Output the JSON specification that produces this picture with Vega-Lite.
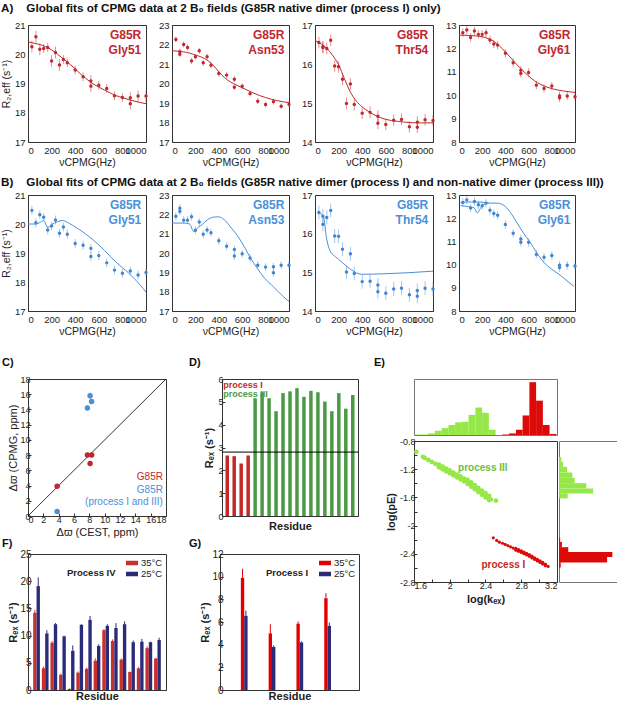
{
"$schema": "https://vega.github.io/schema/vega-lite/v6.json",
"background": "white",
"padding": {"left": 0, "top": 2, "right": 0, "bottom": 0},
"spacing": 18,
"resolve": {"scale": {"color": "independent"}},
"config": {
  "font": "Liberation Sans",
  "view": {"stroke": "#333", "strokeWidth": 1},
  "axis": {"grid": false, "labelOverlap": false, "labelFont": "Liberation Sans", "labelFontSize": 9.5, "labelColor": "#222", "titleFont": "Liberation Sans", "titleFontSize": 10.5, "titleFontWeight": "normal", "titleColor": "#222", "domainColor": "#333", "tickColor": "#333", "ticks": false, "labelPadding": 3, "titlePadding": 3},
  "title": {"font": "Liberation Sans", "fontWeight": "bold", "fontSize": 11.7, "color": "#111", "anchor": "start", "frame": "group"},
  "text": {"font": "Liberation Sans"}
},
"datasets": {
  "A1": [{"x":33,"y":20.26,"e":0.2},{"x":67,"y":20.6,"e":0.2},{"x":100,"y":20.17,"e":0.2},{"x":133,"y":20.2,"e":0.15},{"x":167,"y":20.23,"e":0.15},{"x":200,"y":19.77,"e":0.2},{"x":233,"y":20.06,"e":0.2},{"x":267,"y":19.63,"e":0.2},{"x":300,"y":19.82,"e":0.15},{"x":333,"y":19.71,"e":0.15},{"x":400,"y":19.46,"e":0.15},{"x":467,"y":19.23,"e":0.15},{"x":533,"y":19.09,"e":0.2},{"x":533,"y":18.91,"e":0.2},{"x":600,"y":18.94,"e":0.15},{"x":667,"y":18.83,"e":0.15},{"x":733,"y":18.58,"e":0.15},{"x":800,"y":18.52,"e":0.15},{"x":867,"y":18.51,"e":0.2},{"x":867,"y":18.31,"e":0.2},{"x":933,"y":18.57,"e":0.2},{"x":1000,"y":18.57,"e":0.2}],
  "A1f": [{"x":0,"y":20.42},{"x":50,"y":20.38},{"x":100,"y":20.33},{"x":150,"y":20.26},{"x":200,"y":20.15},{"x":250,"y":20.0},{"x":300,"y":19.84},{"x":350,"y":19.68},{"x":400,"y":19.5},{"x":450,"y":19.31},{"x":500,"y":19.14},{"x":550,"y":18.99},{"x":600,"y":18.88},{"x":650,"y":18.77},{"x":700,"y":18.67},{"x":750,"y":18.58},{"x":800,"y":18.52},{"x":850,"y":18.45},{"x":900,"y":18.4},{"x":950,"y":18.35},{"x":1000,"y":18.31}],
  "A2": [{"x":33,"y":22.26,"e":0.15},{"x":67,"y":21.63,"e":0.15},{"x":67,"y":21.5,"e":0.15},{"x":100,"y":22.0,"e":0.15},{"x":133,"y":21.85,"e":0.15},{"x":167,"y":21.16,"e":0.15},{"x":200,"y":21.37,"e":0.15},{"x":233,"y":21.68,"e":0.15},{"x":267,"y":21.06,"e":0.15},{"x":300,"y":21.37,"e":0.15},{"x":333,"y":20.94,"e":0.15},{"x":400,"y":20.51,"e":0.15},{"x":467,"y":20.43,"e":0.15},{"x":533,"y":20.22,"e":0.15},{"x":533,"y":19.81,"e":0.15},{"x":600,"y":19.86,"e":0.15},{"x":667,"y":19.48,"e":0.15},{"x":733,"y":19.09,"e":0.15},{"x":800,"y":18.92,"e":0.15},{"x":867,"y":19.07,"e":0.15},{"x":933,"y":18.83,"e":0.15},{"x":1000,"y":18.93,"e":0.15}],
  "A2f": [{"x":0,"y":21.68},{"x":50,"y":21.66},{"x":100,"y":21.62},{"x":150,"y":21.56},{"x":200,"y":21.46},{"x":250,"y":21.36},{"x":300,"y":21.2},{"x":350,"y":20.95},{"x":400,"y":20.6},{"x":450,"y":20.3},{"x":500,"y":20.08},{"x":550,"y":19.92},{"x":600,"y":19.78},{"x":650,"y":19.64},{"x":700,"y":19.5},{"x":750,"y":19.38},{"x":800,"y":19.28},{"x":850,"y":19.19},{"x":900,"y":19.12},{"x":950,"y":19.06},{"x":1000,"y":19.02}],
  "A3": [{"x":33,"y":16.55,"e":0.15},{"x":67,"y":16.44,"e":0.15},{"x":67,"y":16.42,"e":0.15},{"x":100,"y":16.4,"e":0.15},{"x":133,"y":16.61,"e":0.15},{"x":167,"y":15.95,"e":0.15},{"x":200,"y":15.93,"e":0.15},{"x":233,"y":15.61,"e":0.15},{"x":267,"y":14.99,"e":0.15},{"x":300,"y":15.49,"e":0.15},{"x":333,"y":14.96,"e":0.15},{"x":400,"y":14.74,"e":0.15},{"x":467,"y":14.76,"e":0.15},{"x":533,"y":14.66,"e":0.15},{"x":533,"y":14.48,"e":0.15},{"x":600,"y":14.45,"e":0.15},{"x":667,"y":14.56,"e":0.15},{"x":733,"y":14.58,"e":0.15},{"x":800,"y":14.39,"e":0.15},{"x":867,"y":14.51,"e":0.15},{"x":867,"y":14.38,"e":0.15},{"x":933,"y":14.57,"e":0.15},{"x":1000,"y":14.55,"e":0.15}],
  "A3f": [{"x":0,"y":16.6},{"x":50,"y":16.52},{"x":100,"y":16.4},{"x":150,"y":16.22},{"x":200,"y":15.98},{"x":250,"y":15.62},{"x":300,"y":15.28},{"x":350,"y":15.05},{"x":400,"y":14.9},{"x":450,"y":14.79},{"x":500,"y":14.7},{"x":550,"y":14.63},{"x":600,"y":14.58},{"x":700,"y":14.53},{"x":800,"y":14.5},{"x":900,"y":14.49},{"x":1000,"y":14.49}],
  "A4": [{"x":33,"y":12.67,"e":0.18},{"x":67,"y":12.79,"e":0.18},{"x":100,"y":12.47,"e":0.18},{"x":133,"y":12.74,"e":0.18},{"x":167,"y":12.6,"e":0.18},{"x":200,"y":12.6,"e":0.18},{"x":233,"y":12.67,"e":0.18},{"x":267,"y":12.36,"e":0.18},{"x":300,"y":12.19,"e":0.18},{"x":333,"y":12.14,"e":0.18},{"x":400,"y":11.79,"e":0.18},{"x":467,"y":11.39,"e":0.18},{"x":533,"y":11.07,"e":0.18},{"x":533,"y":10.93,"e":0.18},{"x":600,"y":10.97,"e":0.18},{"x":667,"y":10.43,"e":0.18},{"x":733,"y":10.29,"e":0.18},{"x":800,"y":10.39,"e":0.18},{"x":867,"y":9.97,"e":0.18},{"x":867,"y":9.89,"e":0.18},{"x":933,"y":9.97,"e":0.18},{"x":1000,"y":9.93,"e":0.18}],
  "A4f": [{"x":0,"y":12.57},{"x":100,"y":12.55},{"x":200,"y":12.5},{"x":250,"y":12.42},{"x":300,"y":12.3},{"x":350,"y":12.1},{"x":400,"y":11.85},{"x":450,"y":11.58},{"x":500,"y":11.3},{"x":550,"y":11.05},{"x":600,"y":10.82},{"x":650,"y":10.62},{"x":700,"y":10.47},{"x":750,"y":10.36},{"x":800,"y":10.28},{"x":900,"y":10.18},{"x":1000,"y":10.12}],
  "B1": [{"x":33,"y":20.47,"e":0.15},{"x":67,"y":20.04,"e":0.15},{"x":100,"y":20.32,"e":0.15},{"x":133,"y":20.23,"e":0.15},{"x":167,"y":19.79,"e":0.15},{"x":200,"y":19.93,"e":0.15},{"x":233,"y":20.14,"e":0.15},{"x":267,"y":19.68,"e":0.15},{"x":300,"y":19.9,"e":0.15},{"x":333,"y":19.65,"e":0.15},{"x":400,"y":19.33,"e":0.15},{"x":467,"y":19.27,"e":0.15},{"x":533,"y":19.16,"e":0.15},{"x":533,"y":18.88,"e":0.15},{"x":600,"y":18.91,"e":0.15},{"x":667,"y":18.66,"e":0.15},{"x":733,"y":18.41,"e":0.15},{"x":800,"y":18.3,"e":0.15},{"x":867,"y":18.38,"e":0.15},{"x":933,"y":18.24,"e":0.15},{"x":1000,"y":18.33,"e":0.15}],
  "B1f": [{"x":0,"y":20.0},{"x":67,"y":20.0},{"x":100,"y":20.05},{"x":133,"y":20.12},{"x":167,"y":19.88},{"x":200,"y":19.98},{"x":250,"y":20.08},{"x":293,"y":20.12},{"x":350,"y":20.02},{"x":400,"y":19.9},{"x":450,"y":19.77},{"x":500,"y":19.62},{"x":550,"y":19.46},{"x":600,"y":19.28},{"x":650,"y":19.08},{"x":700,"y":18.87},{"x":750,"y":18.67},{"x":800,"y":18.49},{"x":850,"y":18.32},{"x":900,"y":18.12},{"x":950,"y":17.9},{"x":1000,"y":17.65}],
  "B2": [{"x":33,"y":21.9,"e":0.2},{"x":67,"y":22.32,"e":0.2},{"x":67,"y":22.15,"e":0.2},{"x":100,"y":21.7,"e":0.2},{"x":133,"y":21.7,"e":0.2},{"x":167,"y":21.87,"e":0.2},{"x":200,"y":21.18,"e":0.2},{"x":233,"y":21.6,"e":0.2},{"x":267,"y":20.97,"e":0.2},{"x":300,"y":21.19,"e":0.2},{"x":333,"y":21.05,"e":0.2},{"x":400,"y":20.63,"e":0.2},{"x":467,"y":20.35,"e":0.2},{"x":533,"y":20.18,"e":0.2},{"x":533,"y":19.84,"e":0.2},{"x":600,"y":19.96,"e":0.2},{"x":667,"y":19.74,"e":0.2},{"x":733,"y":19.37,"e":0.2},{"x":800,"y":19.27,"e":0.2},{"x":867,"y":19.29,"e":0.2},{"x":867,"y":18.98,"e":0.2},{"x":933,"y":19.37,"e":0.2},{"x":1000,"y":19.37,"e":0.2}],
  "B2f": [{"x":0,"y":21.55},{"x":100,"y":21.55},{"x":150,"y":21.5},{"x":187,"y":21.1},{"x":220,"y":21.3},{"x":259,"y":21.48},{"x":300,"y":21.7},{"x":350,"y":21.85},{"x":400,"y":21.87},{"x":445,"y":21.73},{"x":500,"y":21.35},{"x":560,"y":20.89},{"x":620,"y":20.3},{"x":675,"y":19.7},{"x":730,"y":19.2},{"x":790,"y":18.7},{"x":850,"y":18.35},{"x":905,"y":18.02},{"x":950,"y":17.75},{"x":1000,"y":17.5}],
  "B3": [{"x":33,"y":16.55,"e":0.18},{"x":67,"y":16.45,"e":0.18},{"x":67,"y":16.24,"e":0.18},{"x":100,"y":16.42,"e":0.18},{"x":133,"y":16.6,"e":0.18},{"x":167,"y":15.94,"e":0.18},{"x":200,"y":15.93,"e":0.18},{"x":233,"y":15.6,"e":0.18},{"x":267,"y":15.01,"e":0.18},{"x":300,"y":15.48,"e":0.18},{"x":333,"y":14.97,"e":0.18},{"x":400,"y":14.76,"e":0.18},{"x":467,"y":14.77,"e":0.18},{"x":533,"y":14.67,"e":0.18},{"x":533,"y":14.5,"e":0.18},{"x":600,"y":14.46,"e":0.18},{"x":667,"y":14.57,"e":0.18},{"x":733,"y":14.59,"e":0.18},{"x":800,"y":14.42,"e":0.18},{"x":867,"y":14.53,"e":0.18},{"x":867,"y":14.38,"e":0.18},{"x":933,"y":14.59,"e":0.18},{"x":1000,"y":14.57,"e":0.18}],
  "B3f": [{"x":42,"y":16.53},{"x":71,"y":16.45},{"x":99,"y":15.86},{"x":127,"y":15.56},{"x":175,"y":15.4},{"x":225,"y":15.27},{"x":310,"y":15.06},{"x":394,"y":14.95},{"x":563,"y":14.96},{"x":789,"y":14.99},{"x":1000,"y":15.03}],
  "B4": [{"x":33,"y":12.68,"e":0.18},{"x":67,"y":12.79,"e":0.18},{"x":100,"y":12.44,"e":0.18},{"x":133,"y":12.72,"e":0.18},{"x":167,"y":12.58,"e":0.18},{"x":200,"y":12.54,"e":0.18},{"x":233,"y":12.65,"e":0.18},{"x":267,"y":12.34,"e":0.18},{"x":300,"y":12.2,"e":0.18},{"x":333,"y":12.13,"e":0.18},{"x":400,"y":11.73,"e":0.18},{"x":467,"y":11.35,"e":0.18},{"x":533,"y":11.1,"e":0.18},{"x":533,"y":10.96,"e":0.18},{"x":600,"y":10.96,"e":0.18},{"x":667,"y":10.44,"e":0.18},{"x":733,"y":10.32,"e":0.18},{"x":800,"y":10.39,"e":0.18},{"x":867,"y":9.97,"e":0.18},{"x":867,"y":9.87,"e":0.18},{"x":933,"y":9.97,"e":0.18},{"x":1000,"y":9.94,"e":0.18}],
  "B4f": [{"s":1,"x":14,"y":12.54},{"s":1,"x":100,"y":12.48},{"s":1,"x":130,"y":12.45},{"s":1,"x":157,"y":12.23},{"s":1,"x":200,"y":12.54},{"s":1,"x":257,"y":12.65},{"s":1,"x":329,"y":12.65},{"s":1,"x":400,"y":12.5},{"s":1,"x":450,"y":12.2},{"s":1,"x":500,"y":11.8},{"s":1,"x":557,"y":11.35},{"s":1,"x":614,"y":10.96},{"s":1,"x":671,"y":10.5},{"s":1,"x":729,"y":10.11},{"s":1,"x":800,"y":9.8},{"s":1,"x":871,"y":9.55},{"s":1,"x":930,"y":9.3},{"s":1,"x":991,"y":9.06},{"s":2,"x":14,"y":12.68},{"s":2,"x":100,"y":12.7},{"s":2,"x":200,"y":12.69},{"s":2,"x":257,"y":12.65}],
  "C": [{"g":"r","x":3.8,"y":3.9,"e":0.25},{"g":"r","x":7.75,"y":8.0,"e":0.3},{"g":"r","x":8.3,"y":8.0,"e":0.3},{"g":"r","x":8.1,"y":6.9,"e":0.35},{"g":"b","x":3.8,"y":0.6,"e":0.2},{"g":"b","x":7.75,"y":14.2,"e":0.35},{"g":"b","x":8.1,"y":15.8,"e":0.4},{"g":"b","x":8.3,"y":15.05,"e":0.35}],
  "Cline": [{"x":0,"y":0},{"x":18,"y":18}],
  "D": [{"r":1,"p":"I","v":2.65},{"r":2,"p":"I","v":2.62},{"r":3,"p":"I","v":2.3},{"r":4,"p":"I","v":2.65},{"r":5,"p":"III","v":5.16},{"r":6,"p":"III","v":5.42},{"r":7,"p":"III","v":5.16},{"r":8,"p":"III","v":4.59},{"r":9,"p":"III","v":5.38},{"r":10,"p":"III","v":5.46},{"r":11,"p":"III","v":5.6},{"r":12,"p":"III","v":5.22},{"r":13,"p":"III","v":5.48},{"r":14,"p":"III","v":5.42},{"r":15,"p":"III","v":5.01},{"r":16,"p":"III","v":4.59},{"r":17,"p":"III","v":5.38},{"r":18,"p":"III","v":4.7},{"r":19,"p":"III","v":5.3}],
  "Eg": [{"x":1.72,"y":-1.04},{"x":1.76,"y":-1.068},{"x":1.8,"y":-1.097},{"x":1.84,"y":-1.125},{"x":1.88,"y":-1.153},{"x":1.92,"y":-1.182},{"x":1.96,"y":-1.21},{"x":2.0,"y":-1.238},{"x":2.04,"y":-1.267},{"x":2.08,"y":-1.295},{"x":2.12,"y":-1.323},{"x":2.16,"y":-1.352},{"x":2.2,"y":-1.38},{"x":2.24,"y":-1.418},{"x":2.28,"y":-1.456},{"x":2.32,"y":-1.494},{"x":2.36,"y":-1.532},{"x":2.4,"y":-1.57},{"x":2.44,"y":-1.608},
    {"x":1.88,"y":-1.133},{"x":1.92,"y":-1.162},{"x":1.96,"y":-1.19},{"x":2.0,"y":-1.218},{"x":2.04,"y":-1.247},{"x":2.08,"y":-1.275},{"x":2.12,"y":-1.303},{"x":2.16,"y":-1.332},
    {"x":1.88,"y":-1.173},{"x":1.92,"y":-1.202},{"x":1.96,"y":-1.23},{"x":2.0,"y":-1.258},{"x":2.04,"y":-1.287},{"x":2.08,"y":-1.315},{"x":2.12,"y":-1.343},{"x":2.16,"y":-1.372},
    {"x":2.2,"y":-1.35},{"x":2.24,"y":-1.388},{"x":2.28,"y":-1.426},{"x":2.32,"y":-1.464},{"x":2.36,"y":-1.502},{"x":2.4,"y":-1.54},{"x":2.44,"y":-1.578},
    {"x":2.2,"y":-1.41},{"x":2.24,"y":-1.448},{"x":2.28,"y":-1.486},{"x":2.32,"y":-1.524},{"x":2.36,"y":-1.562},{"x":2.4,"y":-1.6},{"x":2.44,"y":-1.638},
    {"x":1.626,"y":-0.955},{"x":1.7,"y":-1.025},{"x":2.46,"y":-1.63},{"x":2.517,"y":-1.645}],
  "Er": [{"x":2.59,"y":-2.25},{"x":2.62,"y":-2.267},{"x":2.65,"y":-2.284},{"x":2.68,"y":-2.301},{"x":2.71,"y":-2.319},{"x":2.74,"y":-2.336},{"x":2.77,"y":-2.353},{"x":2.8,"y":-2.37},{"x":2.83,"y":-2.387},{"x":2.86,"y":-2.404},{"x":2.89,"y":-2.424},{"x":2.92,"y":-2.446},{"x":2.95,"y":-2.468},{"x":2.98,"y":-2.49},{"x":3.01,"y":-2.512},{"x":3.04,"y":-2.534},{"x":3.07,"y":-2.557},{"x":3.1,"y":-2.579},
    {"x":2.74,"y":-2.324},{"x":2.77,"y":-2.341},{"x":2.8,"y":-2.358},{"x":2.83,"y":-2.375},{"x":2.86,"y":-2.392},{"x":2.89,"y":-2.412},{"x":2.92,"y":-2.434},{"x":2.95,"y":-2.456},{"x":2.98,"y":-2.478},{"x":3.01,"y":-2.5},{"x":3.04,"y":-2.522},{"x":3.07,"y":-2.545},
    {"x":2.74,"y":-2.348},{"x":2.77,"y":-2.365},{"x":2.8,"y":-2.382},{"x":2.83,"y":-2.399},{"x":2.86,"y":-2.416},{"x":2.89,"y":-2.436},{"x":2.92,"y":-2.458},{"x":2.95,"y":-2.48},{"x":2.98,"y":-2.502},{"x":3.01,"y":-2.524},{"x":3.04,"y":-2.546},{"x":3.07,"y":-2.569},
    {"x":2.487,"y":-2.174},{"x":2.525,"y":-2.21},{"x":2.555,"y":-2.235}],
  "Eth": [{"g":"III","x0":1.607,"x1":1.683,"c":1},{"g":"III","x0":1.683,"x1":1.758,"c":1},{"g":"III","x0":1.758,"x1":1.834,"c":3},{"g":"III","x0":1.834,"x1":1.909,"c":8},{"g":"III","x0":1.909,"x1":1.985,"c":13},{"g":"III","x0":1.985,"x1":2.06,"c":19},{"g":"III","x0":2.06,"x1":2.136,"c":24},{"g":"III","x0":2.136,"x1":2.211,"c":25},{"g":"III","x0":2.211,"x1":2.287,"c":38},{"g":"III","x0":2.287,"x1":2.362,"c":52},{"g":"III","x0":2.362,"x1":2.438,"c":42},{"g":"III","x0":2.438,"x1":2.513,"c":10},
    {"g":"I","x0":2.589,"x1":2.664,"c":1},{"g":"I","x0":2.664,"x1":2.74,"c":3},{"g":"I","x0":2.74,"x1":2.815,"c":10},{"g":"I","x0":2.815,"x1":2.891,"c":37},{"g":"I","x0":2.891,"x1":2.966,"c":100},{"g":"I","x0":2.966,"x1":3.042,"c":65},{"g":"I","x0":3.042,"x1":3.117,"c":19},{"g":"I","x0":3.117,"x1":3.193,"c":2}],
  "Erh": [{"g":"III","y0":-1.026,"y1":-1.096,"c":4},{"g":"III","y0":-1.096,"y1":-1.167,"c":7},{"g":"III","y0":-1.167,"y1":-1.247,"c":14},{"g":"III","y0":-1.247,"y1":-1.322,"c":23},{"g":"III","y0":-1.322,"y1":-1.398,"c":27},{"g":"III","y0":-1.398,"y1":-1.473,"c":47},{"g":"III","y0":-1.473,"y1":-1.544,"c":59},{"g":"III","y0":-1.544,"y1":-1.614,"c":15},
    {"g":"I","y0":-2.17,"y1":-2.231,"c":2},{"g":"I","y0":-2.231,"y1":-2.306,"c":5},{"g":"I","y0":-2.306,"y1":-2.376,"c":16},{"g":"I","y0":-2.376,"y1":-2.447,"c":92},{"g":"I","y0":-2.447,"y1":-2.522,"c":83},{"g":"I","y0":-2.522,"y1":-2.593,"c":3}],
  "F": [{"r":1,"t":"35°C","v":14.2,"hi":14.7},{"r":1,"t":"25°C","v":19.1,"hi":20.7},{"r":2,"t":"35°C","v":4.0,"hi":4.3},{"r":2,"t":"25°C","v":10.4,"hi":11.0},{"r":3,"t":"35°C","v":8.7,"hi":9.0},{"r":3,"t":"25°C","v":12.1,"hi":12.3},{"r":4,"t":"35°C","v":2.8,"hi":3.0},{"r":4,"t":"25°C","v":9.9,"hi":10.0},{"r":5,"t":"35°C","v":0.2,"hi":0.3},{"r":5,"t":"25°C","v":7.2,"hi":8.2},{"r":6,"t":"35°C","v":3.2,"hi":3.4},{"r":6,"t":"25°C","v":12.0,"hi":12.1},{"r":7,"t":"35°C","v":3.9,"hi":4.1},{"r":7,"t":"25°C","v":12.9,"hi":13.6},{"r":8,"t":"35°C","v":5.4,"hi":5.8},{"r":8,"t":"25°C","v":8.1,"hi":8.4},{"r":9,"t":"35°C","v":11.0,"hi":11.2},{"r":9,"t":"25°C","v":11.8,"hi":12.1},{"r":10,"t":"35°C","v":9.0,"hi":9.3},{"r":10,"t":"25°C","v":11.4,"hi":12.3},{"r":11,"t":"35°C","v":5.6,"hi":5.8},{"r":11,"t":"25°C","v":12.1,"hi":12.6},{"r":12,"t":"35°C","v":3.3,"hi":3.4},{"r":12,"t":"25°C","v":8.8,"hi":9.1},{"r":13,"t":"35°C","v":4.0,"hi":4.2},{"r":13,"t":"25°C","v":8.9,"hi":9.4},{"r":14,"t":"35°C","v":7.7,"hi":8.0},{"r":14,"t":"25°C","v":8.8,"hi":8.9},{"r":15,"t":"35°C","v":5.8,"hi":5.9},{"r":15,"t":"25°C","v":9.2,"hi":9.6}],
  "G": [{"r":1,"t":"35°C","v":9.9,"hi":10.7},{"r":1,"t":"25°C","v":6.55,"hi":7.0},{"r":2,"t":"35°C","v":5.0,"hi":5.8},{"r":2,"t":"25°C","v":3.8,"hi":3.95},{"r":3,"t":"35°C","v":5.85,"hi":6.05},{"r":3,"t":"25°C","v":4.2,"hi":4.3},{"r":4,"t":"35°C","v":8.1,"hi":8.55},{"r":4,"t":"25°C","v":5.65,"hi":5.95}]
},
"vconcat": [
 {"vconcat": [
  {"title": {"text": "A)\u00a0\u00a0\u00a0\u00a0Global fits of CPMG data at 2 B₀ fields (G85R native dimer (process I) only)", "dx": -27, "offset": 5},
   "bounds": "flush", "spacing": 26,
   "hconcat": [
    {"width": 118, "height": 117, "layer": [
      {"data": {"name": "A1"}, "mark": {"type": "errorbar", "color": "#c1272d", "opacity": 0.5}, "encoding": {"x": {"field": "x", "type": "quantitative", "title": "νCPMG(Hz)", "scale": {"domain": [0, 1000], "nice": false}, "axis": {"values": [0,200,400,600,800,1000], "tickCount": 40, "format": "d", "labelOverlap": false}}, "y": {"field": "y", "type": "quantitative", "title": "R₂,eff (s⁻¹)", "scale": {"domain": [17, 21], "nice": false}, "axis": {"values": [17,18,19,20,21], "tickCount": 40, "format": "d", "labelOverlap": false}}, "yError": {"field": "e"}}},
      {"data": {"name": "A1"}, "mark": {"type": "circle", "size": 12, "color": "#c1272d", "opacity": 1}, "encoding": {"x": {"field": "x", "type": "quantitative", "title": "νCPMG(Hz)"}, "y": {"field": "y", "type": "quantitative", "title": "R₂,eff (s⁻¹)"}}},
      {"data": {"name": "A1f"}, "mark": {"type": "line", "color": "#c1272d", "strokeWidth": 1, "interpolate": "monotone"}, "encoding": {"x": {"field": "x", "type": "quantitative", "title": "νCPMG(Hz)"}, "y": {"field": "y", "type": "quantitative", "title": "R₂,eff (s⁻¹)"}}},
      {"data": {"values": [{}]}, "mark": {"type": "text", "text": ["G85R", "Gly51"], "align": "right", "baseline": "top", "fontSize": 12, "fontWeight": "bold", "color": "#c1272d", "lineHeight": 15}, "encoding": {"x": {"datum": 960}, "y": {"datum": 20.82}}}
    ]},
    {"width": 117, "height": 117, "layer": [
      {"data": {"name": "A2"}, "mark": {"type": "errorbar", "color": "#c1272d", "opacity": 0.5}, "encoding": {"x": {"field": "x", "type": "quantitative", "title": "νCPMG(Hz)", "scale": {"domain": [0, 1000], "nice": false}, "axis": {"values": [0,200,400,600,800,1000], "tickCount": 40, "format": "d", "labelOverlap": false}}, "y": {"field": "y", "type": "quantitative", "title": null, "scale": {"domain": [17, 23], "nice": false}, "axis": {"values": [17,18,19,20,21,22,23], "tickCount": 40, "format": "d", "labelOverlap": false}}, "yError": {"field": "e"}}},
      {"data": {"name": "A2"}, "mark": {"type": "circle", "size": 12, "color": "#c1272d", "opacity": 1}, "encoding": {"x": {"field": "x", "type": "quantitative", "title": "νCPMG(Hz)"}, "y": {"field": "y", "type": "quantitative", "title": null}}},
      {"data": {"name": "A2f"}, "mark": {"type": "line", "color": "#c1272d", "strokeWidth": 1, "interpolate": "monotone"}, "encoding": {"x": {"field": "x", "type": "quantitative", "title": "νCPMG(Hz)"}, "y": {"field": "y", "type": "quantitative", "title": null}}},
      {"data": {"values": [{}]}, "mark": {"type": "text", "text": ["G85R", "Asn53"], "align": "right", "baseline": "top", "fontSize": 12, "fontWeight": "bold", "color": "#c1272d", "lineHeight": 15}, "encoding": {"x": {"datum": 960}, "y": {"datum": 22.73}}}
    ]},
    {"width": 118, "height": 117, "layer": [
      {"data": {"name": "A3"}, "mark": {"type": "errorbar", "color": "#c1272d", "opacity": 0.5}, "encoding": {"x": {"field": "x", "type": "quantitative", "title": "νCPMG(Hz)", "scale": {"domain": [0, 1000], "nice": false}, "axis": {"values": [0,200,400,600,800,1000], "tickCount": 40, "format": "d", "labelOverlap": false}}, "y": {"field": "y", "type": "quantitative", "title": null, "scale": {"domain": [14, 17], "nice": false}, "axis": {"values": [14,15,16,17], "tickCount": 40, "format": "d", "labelOverlap": false}}, "yError": {"field": "e"}}},
      {"data": {"name": "A3"}, "mark": {"type": "circle", "size": 12, "color": "#c1272d", "opacity": 1}, "encoding": {"x": {"field": "x", "type": "quantitative", "title": "νCPMG(Hz)"}, "y": {"field": "y", "type": "quantitative", "title": null}}},
      {"data": {"name": "A3f"}, "mark": {"type": "line", "color": "#c1272d", "strokeWidth": 1, "interpolate": "monotone"}, "encoding": {"x": {"field": "x", "type": "quantitative", "title": "νCPMG(Hz)"}, "y": {"field": "y", "type": "quantitative", "title": null}}},
      {"data": {"values": [{}]}, "mark": {"type": "text", "text": ["G85R", "Thr54"], "align": "right", "baseline": "top", "fontSize": 12, "fontWeight": "bold", "color": "#c1272d", "lineHeight": 15}, "encoding": {"x": {"datum": 960}, "y": {"datum": 16.86}}}
    ]},
    {"width": 116, "height": 117, "layer": [
      {"data": {"name": "A4"}, "mark": {"type": "errorbar", "color": "#c1272d", "opacity": 0.5}, "encoding": {"x": {"field": "x", "type": "quantitative", "title": "νCPMG(Hz)", "scale": {"domain": [0, 1000], "nice": false}, "axis": {"values": [0,200,400,600,800,1000], "tickCount": 40, "format": "d", "labelOverlap": false}}, "y": {"field": "y", "type": "quantitative", "title": null, "scale": {"domain": [8, 13], "nice": false}, "axis": {"values": [8,9,10,11,12,13], "tickCount": 40, "format": "d", "labelOverlap": false}}, "yError": {"field": "e"}}},
      {"data": {"name": "A4"}, "mark": {"type": "circle", "size": 12, "color": "#c1272d", "opacity": 1}, "encoding": {"x": {"field": "x", "type": "quantitative", "title": "νCPMG(Hz)"}, "y": {"field": "y", "type": "quantitative", "title": null}}},
      {"data": {"name": "A4f"}, "mark": {"type": "line", "color": "#c1272d", "strokeWidth": 1, "interpolate": "monotone"}, "encoding": {"x": {"field": "x", "type": "quantitative", "title": "νCPMG(Hz)"}, "y": {"field": "y", "type": "quantitative", "title": null}}},
      {"data": {"values": [{}]}, "mark": {"type": "text", "text": ["G85R", "Gly61"], "align": "right", "baseline": "top", "fontSize": 12, "fontWeight": "bold", "color": "#c1272d", "lineHeight": 15}, "encoding": {"x": {"datum": 960}, "y": {"datum": 12.77}}}
    ]}
   ]},
  {"title": {"text": "B)\u00a0\u00a0\u00a0\u00a0Global fits of CPMG data at 2 B₀ fields (G85R native dimer (process I) and non-native dimer (process III))", "dx": -27, "offset": 1},
   "bounds": "flush", "spacing": 26,
   "hconcat": [
    {"width": 118, "height": 116, "layer": [
      {"data": {"name": "B1"}, "mark": {"type": "errorbar", "color": "#4a90d8", "opacity": 0.5}, "encoding": {"x": {"field": "x", "type": "quantitative", "title": "νCPMG(Hz)", "scale": {"domain": [0, 1000], "nice": false}, "axis": {"values": [0,200,400,600,800,1000], "tickCount": 40, "format": "d", "labelOverlap": false}}, "y": {"field": "y", "type": "quantitative", "title": "R₂,eff (s⁻¹)", "scale": {"domain": [17, 21], "nice": false}, "axis": {"values": [17,18,19,20,21], "tickCount": 40, "format": "d", "labelOverlap": false}}, "yError": {"field": "e"}}},
      {"data": {"name": "B1"}, "mark": {"type": "circle", "size": 12, "color": "#3f86d0", "opacity": 1}, "encoding": {"x": {"field": "x", "type": "quantitative", "title": "νCPMG(Hz)"}, "y": {"field": "y", "type": "quantitative", "title": "R₂,eff (s⁻¹)"}}},
      {"data": {"name": "B1f"}, "mark": {"type": "line", "color": "#4a90d8", "strokeWidth": 1, "interpolate": "monotone"}, "encoding": {"x": {"field": "x", "type": "quantitative", "title": "νCPMG(Hz)"}, "y": {"field": "y", "type": "quantitative", "title": "R₂,eff (s⁻¹)"}}},
      {"data": {"values": [{}]}, "mark": {"type": "text", "text": ["G85R", "Gly51"], "align": "right", "baseline": "top", "fontSize": 12, "fontWeight": "bold", "color": "#4a90d8", "lineHeight": 15}, "encoding": {"x": {"datum": 960}, "y": {"datum": 20.82}}}
    ]},
    {"width": 117, "height": 116, "layer": [
      {"data": {"name": "B2"}, "mark": {"type": "errorbar", "color": "#4a90d8", "opacity": 0.5}, "encoding": {"x": {"field": "x", "type": "quantitative", "title": "νCPMG(Hz)", "scale": {"domain": [0, 1000], "nice": false}, "axis": {"values": [0,200,400,600,800,1000], "tickCount": 40, "format": "d", "labelOverlap": false}}, "y": {"field": "y", "type": "quantitative", "title": null, "scale": {"domain": [17, 23], "nice": false}, "axis": {"values": [17,18,19,20,21,22,23], "tickCount": 40, "format": "d", "labelOverlap": false}}, "yError": {"field": "e"}}},
      {"data": {"name": "B2"}, "mark": {"type": "circle", "size": 12, "color": "#3f86d0", "opacity": 1}, "encoding": {"x": {"field": "x", "type": "quantitative", "title": "νCPMG(Hz)"}, "y": {"field": "y", "type": "quantitative", "title": null}}},
      {"data": {"name": "B2f"}, "mark": {"type": "line", "color": "#4a90d8", "strokeWidth": 1, "interpolate": "monotone"}, "encoding": {"x": {"field": "x", "type": "quantitative", "title": "νCPMG(Hz)"}, "y": {"field": "y", "type": "quantitative", "title": null}}},
      {"data": {"values": [{}]}, "mark": {"type": "text", "text": ["G85R", "Asn53"], "align": "right", "baseline": "top", "fontSize": 12, "fontWeight": "bold", "color": "#4a90d8", "lineHeight": 15}, "encoding": {"x": {"datum": 960}, "y": {"datum": 22.73}}}
    ]},
    {"width": 118, "height": 116, "layer": [
      {"data": {"name": "B3"}, "mark": {"type": "errorbar", "color": "#4a90d8", "opacity": 0.5}, "encoding": {"x": {"field": "x", "type": "quantitative", "title": "νCPMG(Hz)", "scale": {"domain": [0, 1000], "nice": false}, "axis": {"values": [0,200,400,600,800,1000], "tickCount": 40, "format": "d", "labelOverlap": false}}, "y": {"field": "y", "type": "quantitative", "title": null, "scale": {"domain": [14, 17], "nice": false}, "axis": {"values": [14,15,16,17], "tickCount": 40, "format": "d", "labelOverlap": false}}, "yError": {"field": "e"}}},
      {"data": {"name": "B3"}, "mark": {"type": "circle", "size": 12, "color": "#3f86d0", "opacity": 1}, "encoding": {"x": {"field": "x", "type": "quantitative", "title": "νCPMG(Hz)"}, "y": {"field": "y", "type": "quantitative", "title": null}}},
      {"data": {"name": "B3f"}, "mark": {"type": "line", "color": "#4a90d8", "strokeWidth": 1, "interpolate": "monotone"}, "encoding": {"x": {"field": "x", "type": "quantitative", "title": "νCPMG(Hz)"}, "y": {"field": "y", "type": "quantitative", "title": null}}},
      {"data": {"values": [{}]}, "mark": {"type": "text", "text": ["G85R", "Thr54"], "align": "right", "baseline": "top", "fontSize": 12, "fontWeight": "bold", "color": "#4a90d8", "lineHeight": 15}, "encoding": {"x": {"datum": 960}, "y": {"datum": 16.86}}}
    ]},
    {"width": 116, "height": 116, "layer": [
      {"data": {"name": "B4"}, "mark": {"type": "errorbar", "color": "#4a90d8", "opacity": 0.5}, "encoding": {"x": {"field": "x", "type": "quantitative", "title": "νCPMG(Hz)", "scale": {"domain": [0, 1000], "nice": false}, "axis": {"values": [0,200,400,600,800,1000], "tickCount": 40, "format": "d", "labelOverlap": false}}, "y": {"field": "y", "type": "quantitative", "title": null, "scale": {"domain": [8, 13], "nice": false}, "axis": {"values": [8,9,10,11,12,13], "tickCount": 40, "format": "d", "labelOverlap": false}}, "yError": {"field": "e"}}},
      {"data": {"name": "B4"}, "mark": {"type": "circle", "size": 12, "color": "#3f86d0", "opacity": 1}, "encoding": {"x": {"field": "x", "type": "quantitative", "title": "νCPMG(Hz)"}, "y": {"field": "y", "type": "quantitative", "title": null}}},
      {"data": {"name": "B4f"}, "mark": {"type": "line", "color": "#4a90d8", "strokeWidth": 1, "interpolate": "monotone"}, "encoding": {"x": {"field": "x", "type": "quantitative", "title": "νCPMG(Hz)"}, "y": {"field": "y", "type": "quantitative", "title": null}, "detail": {"field": "s"}}},
      {"data": {"values": [{}]}, "mark": {"type": "text", "text": ["G85R", "Gly61"], "align": "right", "baseline": "top", "fontSize": 12, "fontWeight": "bold", "color": "#4a90d8", "lineHeight": 15}, "encoding": {"x": {"datum": 960}, "y": {"datum": 12.77}}}
    ]}
   ]}
 ], "spacing": 7},
 {"hconcat": [
   {"vconcat": [
     {"hconcat": [
       {"title": {"text": "C)", "dx": -26, "offset": 7, "fontSize": 11},
        "width": 138, "height": 137,
        "layer": [
         {"data": {"name": "Cline"}, "mark": {"type": "line", "color": "#000", "strokeWidth": 0.8}, "encoding": {"x": {"field": "x", "type": "quantitative", "title": "Δϖ (CEST, ppm)", "scale": {"domain": [0, 18], "nice": false}, "axis": {"values": [0,2,4,6,8,10,12,14,16,18], "tickCount": 40, "format": "d", "labelOverlap": false, "labelFontSize": 9, "ticks": true, "tickSize": -3, "labelPadding": 2, "titleFontSize": 11, "titlePadding": 2}}, "y": {"field": "y", "type": "quantitative", "title": "Δϖ (CPMG, ppm)", "scale": {"domain": [0, 18], "nice": false}, "axis": {"values": [0,2,4,6,8,10,12,14,16,18], "tickCount": 40, "format": "d", "labelOverlap": false, "labelFontSize": 9, "ticks": true, "tickSize": -3, "labelPadding": 1, "titleFontSize": 11, "titlePadding": 1}}}},
         {"data": {"name": "C"}, "mark": {"type": "errorbar", "color": "#666", "opacity": 0.6}, "encoding": {"x": {"field": "x", "type": "quantitative", "title": "Δϖ (CEST, ppm)"}, "y": {"field": "y", "type": "quantitative", "title": "Δϖ (CPMG, ppm)"}, "yError": {"field": "e"}}},
         {"data": {"name": "C"}, "transform": [{"filter": "datum.g == 'r'"}], "mark": {"type": "circle", "size": 30, "color": "#c1272d", "opacity": 1}, "encoding": {"x": {"field": "x", "type": "quantitative", "title": "Δϖ (CEST, ppm)"}, "y": {"field": "y", "type": "quantitative", "title": "Δϖ (CPMG, ppm)"}}},
         {"data": {"name": "C"}, "transform": [{"filter": "datum.g == 'b'"}], "mark": {"type": "circle", "size": 30, "color": "#4a90d8", "opacity": 1}, "encoding": {"x": {"field": "x", "type": "quantitative", "title": "Δϖ (CEST, ppm)"}, "y": {"field": "y", "type": "quantitative", "title": "Δϖ (CPMG, ppm)"}}},
         {"data": {"values": [{}]}, "mark": {"type": "text", "text": "G85R", "align": "right", "baseline": "middle", "fontSize": 10, "color": "#c1272d"}, "encoding": {"x": {"datum": 17.6}, "y": {"datum": 5.1}}},
         {"data": {"values": [{}]}, "mark": {"type": "text", "text": "G85R", "align": "right", "baseline": "middle", "fontSize": 10, "color": "#4a90d8"}, "encoding": {"x": {"datum": 17.6}, "y": {"datum": 3.4}}},
         {"data": {"values": [{}]}, "mark": {"type": "text", "text": "(process I and III)", "align": "right", "baseline": "middle", "fontSize": 10, "color": "#4a90d8"}, "encoding": {"x": {"datum": 17.6}, "y": {"datum": 1.8}}}
        ]},
       {"title": {"text": "D)", "dx": -33, "offset": 7, "fontSize": 11},
        "width": 136, "height": 137,
        "layer": [
         {"data": {"name": "D"}, "mark": {"type": "bar"}, "encoding": {"x": {"field": "r", "type": "ordinal", "title": "Residue", "scale": {"paddingInner": 0.5, "paddingOuter": 0.5}, "axis": {"labels": false, "ticks": false, "titleFontWeight": "bold", "titleFontSize": 11, "titlePadding": 4}}, "y": {"field": "v", "type": "quantitative", "title": "Rₑₓ (s⁻¹)", "scale": {"domain": [0, 6], "nice": false}, "axis": {"values": [0,1,2,3,4,5,6], "tickCount": 40, "labelOverlap": false, "format": "d", "labelFontSize": 9, "ticks": true, "tickSize": -3, "labelPadding": 2, "titleFontWeight": "bold", "titleFontSize": 11}}, "color": {"field": "p", "type": "nominal", "scale": {"domain": ["I", "III"], "range": ["#c62828", "#4a9a44"]}, "legend": null}}},
         {"data": {"values": [{}]}, "mark": {"type": "rule", "color": "#000", "strokeWidth": 1}, "encoding": {"y": {"datum": 2.8, "type": "quantitative"}}},
         {"data": {"values": [{}]}, "mark": {"type": "text", "text": "process I", "align": "left", "baseline": "middle", "fontSize": 9, "fontWeight": "bold", "color": "#c62828", "dx": -4}, "encoding": {"x": {"datum": 1, "type": "ordinal"}, "y": {"datum": 5.75, "type": "quantitative"}}},
         {"data": {"values": [{}]}, "mark": {"type": "text", "text": "process III", "align": "left", "baseline": "middle", "fontSize": 9, "fontWeight": "bold", "color": "#4a9a44", "dx": -4}, "encoding": {"x": {"datum": 1, "type": "ordinal"}, "y": {"datum": 5.35, "type": "quantitative"}}}
        ]}
     ], "spacing": 56, "bounds": "flush"},
     {"hconcat": [
       {"title": {"text": "F)", "dx": -26, "offset": 0, "fontSize": 11},
        "width": 138, "height": 136,
        "layer": [
         {"data": {"name": "F"}, "mark": {"type": "bar"}, "encoding": {"x": {"field": "r", "type": "ordinal", "title": "Residue", "scale": {"paddingInner": 0.22, "paddingOuter": 0.6}, "axis": {"labels": false, "ticks": false, "titleFontWeight": "bold", "titleFontSize": 11, "titlePadding": 0}}, "xOffset": {"field": "t", "type": "nominal", "scale": {"domain": ["35°C", "25°C"]}}, "y": {"field": "v", "type": "quantitative", "title": "Rₑₓ (s⁻¹)", "scale": {"domain": [0, 25], "nice": false}, "axis": {"values": [0,5,10,15,20,25], "tickCount": 40, "format": "d", "labelOverlap": false, "labelFontSize": 10, "ticks": true, "tickSize": -3, "labelPadding": 0, "titlePadding": 1, "titleFontWeight": "bold", "titleFontSize": 11}}, "color": {"field": "t", "type": "nominal", "scale": {"domain": ["35°C", "25°C"], "range": ["#c8312b", "#2b2b7b"]}, "legend": {"orient": "top-right", "title": "Process IV", "titleOrient": "left", "titleBaseline": "top", "titleFontWeight": "bold", "titleFontSize": 9.5, "titleColor": "#222", "titlePadding": 10, "labelFontSize": 9.5, "labelColor": "#222", "symbolType": "M-1,-0.28H1V0.28H-1Z", "symbolSize": 110, "rowPadding": -2, "padding": 0, "offset": 3, "labelOffset": 3}}}},
         {"data": {"name": "F"}, "mark": {"type": "rule", "strokeWidth": 1}, "encoding": {"x": {"field": "r", "type": "ordinal", "title": "Residue"}, "xOffset": {"field": "t", "type": "nominal"}, "y": {"field": "v", "type": "quantitative", "title": "Rₑₓ (s⁻¹)"}, "y2": {"field": "hi"}, "color": {"field": "t", "type": "nominal"}}}
        ]},
       {"title": {"text": "G)", "dx": -31, "offset": 0, "fontSize": 11},
        "width": 139, "height": 136,
        "layer": [
         {"data": {"name": "G"}, "mark": {"type": "bar"}, "encoding": {"x": {"field": "r", "type": "ordinal", "title": "Residue", "scale": {"paddingInner": 0.5, "paddingOuter": 0.75}, "axis": {"labels": false, "ticks": false, "titleFontWeight": "bold", "titleFontSize": 11, "titlePadding": 0}}, "xOffset": {"field": "t", "type": "nominal", "scale": {"domain": ["35°C", "25°C"]}}, "y": {"field": "v", "type": "quantitative", "title": "Rₑₓ (s⁻¹)", "scale": {"domain": [0, 12], "nice": false}, "axis": {"values": [0,2,4,6,8,10,12], "tickCount": 40, "format": "d", "labelOverlap": false, "labelFontSize": 10, "ticks": true, "tickSize": -3, "labelPadding": 0, "titlePadding": 1, "titleFontWeight": "bold", "titleFontSize": 11}}, "color": {"field": "t", "type": "nominal", "scale": {"domain": ["35°C", "25°C"], "range": ["#e40000", "#2b2b7b"]}, "legend": {"orient": "top-right", "title": "Process I", "titleOrient": "left", "titleBaseline": "top", "titleFontWeight": "bold", "titleFontSize": 9.5, "titleColor": "#222", "titlePadding": 10, "labelFontSize": 9.5, "labelColor": "#222", "symbolType": "M-1,-0.28H1V0.28H-1Z", "symbolSize": 110, "rowPadding": -2, "padding": 0, "offset": 3, "labelOffset": 3}}}},
         {"data": {"name": "G"}, "mark": {"type": "rule", "strokeWidth": 1}, "encoding": {"x": {"field": "r", "type": "ordinal", "title": "Residue"}, "xOffset": {"field": "t", "type": "nominal"}, "y": {"field": "v", "type": "quantitative", "title": "Rₑₓ (s⁻¹)"}, "y2": {"field": "hi"}, "color": {"field": "t", "type": "nominal"}}}
        ]}
     ], "spacing": 54, "bounds": "flush", "resolve": {"scale": {"color": "independent"}}}
   ], "spacing": -1, "resolve": {"scale": {"color": "independent"}}},
   {"vconcat": [
     {"title": {"text": "E)", "dx": -40, "offset": 11, "fontSize": 11},
      "width": 143, "height": 56, "view": {"stroke": "#777"},
      "data": {"name": "Eth"},
      "mark": {"type": "bar"},
      "encoding": {"x": {"field": "x0", "type": "quantitative", "scale": {"domain": [1.6, 3.2], "nice": false}, "axis": null}, "x2": {"field": "x1"}, "y": {"field": "c", "type": "quantitative", "scale": {"domain": [0, 106], "nice": false}, "axis": null}, "y2": {"datum": 0}, "color": {"field": "g", "type": "nominal", "scale": {"domain": ["III", "I"], "range": ["#95e848", "#dd0a0a"]}, "legend": null}}},
     {"hconcat": [
       {"width": 143, "height": 141,
        "layer": [
         {"data": {"name": "Eg"}, "mark": {"type": "circle", "size": 22, "color": "#95e848", "opacity": 1}, "encoding": {"x": {"field": "x", "type": "quantitative", "title": "log(kₑₓ)", "scale": {"domain": [1.6, 3.2], "nice": false}, "axis": {"values": [1.6,1.8,2,2.2,2.4,2.6,2.8,3,3.2], "tickCount": 40, "labelOverlap": false, "labelExpr": "round(datum.value*10) % 4 == 0 ? '' + datum.value : ''", "labelFontSize": 9, "ticks": true, "tickSize": -3, "labelPadding": 2, "titleFontWeight": "bold", "titleFontSize": 11}}, "y": {"field": "y", "type": "quantitative", "title": "log(pE)", "scale": {"domain": [-2.8, -0.8], "nice": false}, "axis": {"values": [-2.8,-2.6,-2.4,-2.2,-2,-1.8,-1.6,-1.4,-1.2,-1,-0.8], "tickCount": 40, "labelOverlap": false, "labelExpr": "round(datum.value*10) % 4 == 0 ? '' + datum.value : ''", "labelFontSize": 9, "ticks": true, "tickSize": -3, "labelPadding": 2, "titleFontWeight": "bold", "titleFontSize": 11}}}},
         {"data": {"name": "Er"}, "mark": {"type": "circle", "size": 10, "color": "#dd0a0a", "opacity": 1}, "encoding": {"x": {"field": "x", "type": "quantitative", "title": "log(kₑₓ)"}, "y": {"field": "y", "type": "quantitative", "title": "log(pE)"}}},
         {"data": {"values": [{}]}, "mark": {"type": "text", "text": "process III", "align": "center", "baseline": "middle", "fontSize": 10, "fontWeight": "bold", "color": "#6cc03a"}, "encoding": {"x": {"datum": 2.37}, "y": {"datum": -1.19}}},
         {"data": {"values": [{}]}, "mark": {"type": "text", "text": "process I", "align": "center", "baseline": "middle", "fontSize": 10, "fontWeight": "bold", "color": "#c62828"}, "encoding": {"x": {"datum": 2.6}, "y": {"datum": -2.56}}}
        ]},
       {"width": 58, "height": 141, "view": {"stroke": "#777"},
        "data": {"name": "Erh"},
        "mark": {"type": "bar"},
        "encoding": {"y": {"field": "y0", "type": "quantitative", "scale": {"domain": [-2.8, -0.8], "nice": false}, "axis": null}, "y2": {"field": "y1"}, "x": {"field": "c", "type": "quantitative", "scale": {"domain": [0, 100], "nice": false}, "axis": null}, "x2": {"datum": 0}, "color": {"field": "g", "type": "nominal", "scale": {"domain": ["III", "I"], "range": ["#95e848", "#dd0a0a"]}, "legend": null}}}
     ], "spacing": 2, "bounds": "flush", "resolve": {"scale": {"color": "independent"}}}
   ], "spacing": 0, "resolve": {"scale": {"color": "independent"}}}
 ], "spacing": 13, "resolve": {"scale": {"color": "independent"}}}
]
}
